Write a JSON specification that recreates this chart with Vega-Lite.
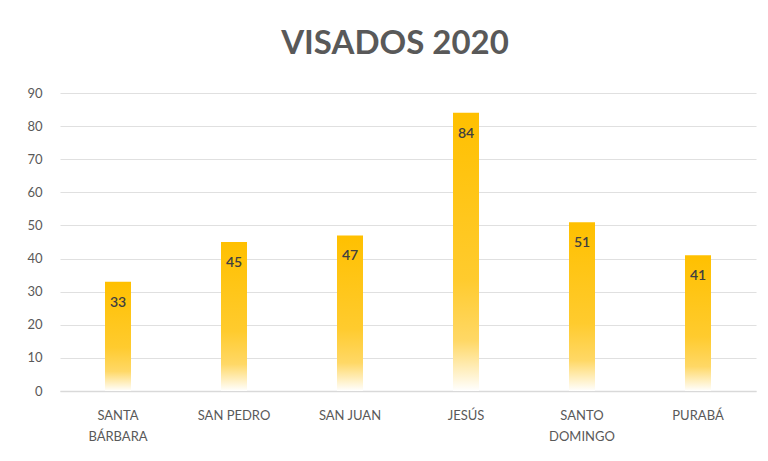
{
  "$schema": "https://vega.github.io/schema/vega-lite/v6.json",
  "width": 696,
  "height": 298,
  "autosize": {"type": "none"},
  "padding": {"left": 60, "top": 93, "right": 12, "bottom": 70},
  "background": "white",
  "title": {
    "text": "VISADOS 2020",
    "font": "Lato",
    "fontSize": 33,
    "fontWeight": "bold",
    "color": "#595959",
    "anchor": "middle",
    "offset": 26,
    "dx": -13
  },
  "data": {
    "values": [
      {"lugar": "SANTA BÁRBARA", "visados": 33},
      {"lugar": "SAN PEDRO", "visados": 45},
      {"lugar": "SAN JUAN", "visados": 47},
      {"lugar": "JESÚS", "visados": 84},
      {"lugar": "SANTO DOMINGO", "visados": 51},
      {"lugar": "PURABÁ", "visados": 41}
    ]
  },
  "encoding": {
    "x": {
      "field": "lugar",
      "type": "nominal",
      "sort": null,
      "title": null,
      "scale": {"paddingInner": 0, "paddingOuter": 0},
      "axis": {
        "labelAngle": 0,
        "ticks": false,
        "domainColor": "#d9d9d9",
        "domainWidth": 1.5,
        "labelColor": "#595959",
        "labelFont": "Lato",
        "labelFontSize": 13,
        "labelPadding": 18,
        "labelLineHeight": 21,
        "labelExpr": "datum.value == 'SANTA BÁRBARA' ? ['SANTA', 'BÁRBARA'] : datum.value == 'SANTO DOMINGO' ? ['SANTO', 'DOMINGO'] : datum.value"
      }
    },
    "y": {
      "field": "visados",
      "type": "quantitative",
      "title": null,
      "scale": {"domain": [0, 90], "nice": false},
      "axis": {
        "values": [0, 10, 20, 30, 40, 50, 60, 70, 80, 90],
        "domain": false,
        "ticks": false,
        "gridColor": "#e0e0e0",
        "gridWidth": 1.2,
        "labelColor": "#595959",
        "labelFont": "Lato",
        "labelFontSize": 13,
        "labelPadding": 18
      }
    }
  },
  "layer": [
    {
      "mark": {
        "type": "bar",
        "size": 26,
        "color": {
          "gradient": "linear",
          "x1": 0, "y1": 0, "x2": 0, "y2": 1,
          "stops": [
            {"offset": 0, "color": "#FFC000"},
            {"offset": 0.6, "color": "#FFCB2E"},
            {"offset": 0.82, "color": "#FFD866"},
            {"offset": 1, "color": "#FFFFFF"}
          ]
        }
      }
    },
    {
      "mark": {
        "type": "text",
        "baseline": "middle",
        "dy": 21,
        "font": "Lato",
        "fontSize": 14,
        "fontWeight": 600,
        "color": "#404040"
      },
      "encoding": {"text": {"field": "visados", "type": "quantitative"}}
    }
  ],
  "config": {"view": {"stroke": null}}
}
